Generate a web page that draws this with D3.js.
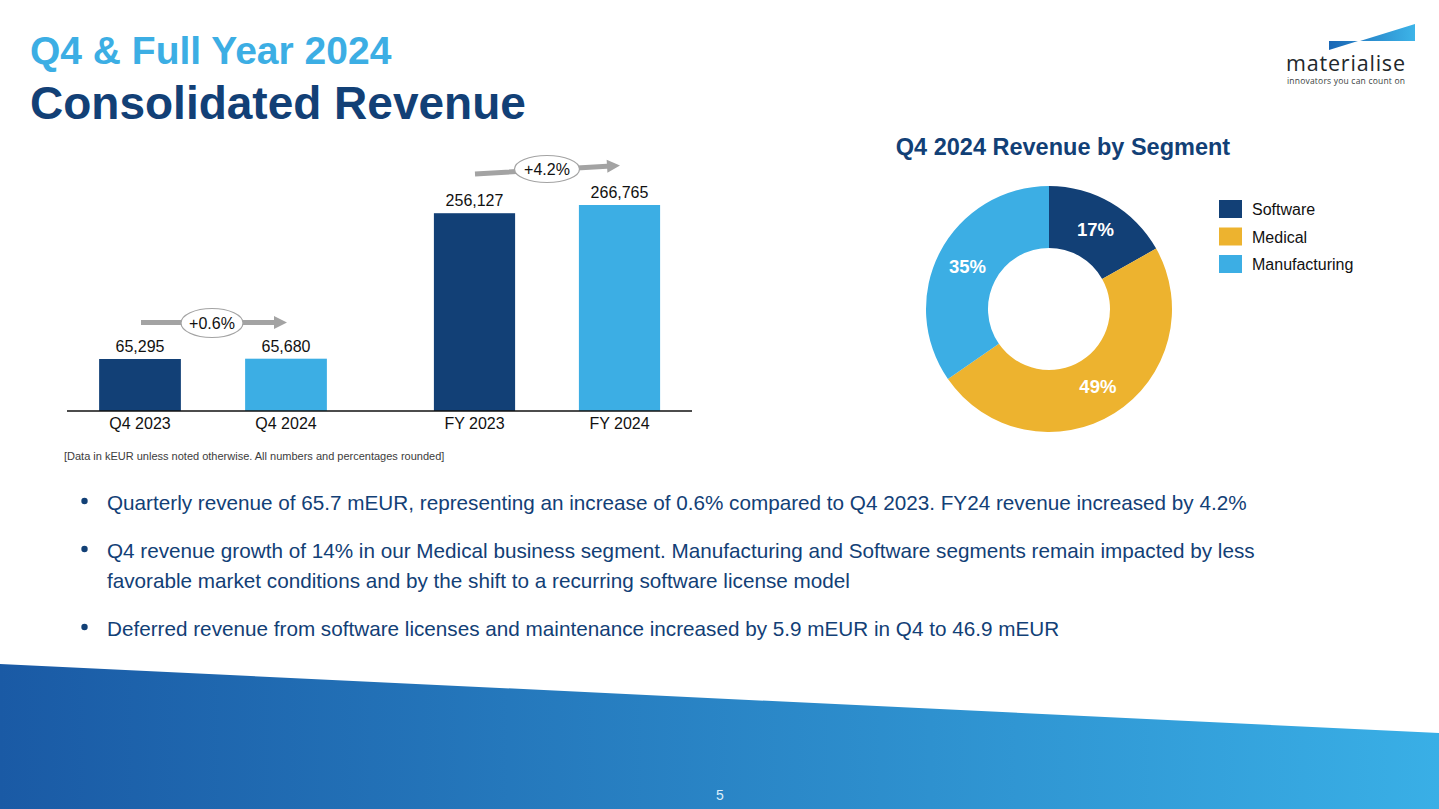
<!DOCTYPE html>
<html>
<head>
<meta charset="utf-8">
<title>Consolidated Revenue</title>
<script src="https://cdn.jsdelivr.net/npm/d3@7"></script>
<style>
html, body { margin: 0; padding: 0; background: #fff; overflow: hidden; }
svg { display: block; }
text { font-family: "Liberation Sans", Arial, sans-serif; }
</style>
</head>
<body>
<svg id="slide" width="1439" height="809"></svg>
<script>
'use strict';

var quarterLabels = ['Q4 2023', 'Q4 2024'];
var quarterValues = [65295, 65680];
var yearLabels = ['FY 2023', 'FY 2024'];
var yearValues = [256127, 266765];
var barColors = ['#124076', '#3caee4'];

var segmentNames = ['Software', 'Medical', 'Manufacturing'];
var segmentShares = [17, 49, 35];
var segmentColors = ['#124076', '#edb32f', '#3caee4'];

var bulletLines = [
  ['Quarterly revenue of 65.7 mEUR, representing an increase of 0.6% compared to Q4 2023. FY24 revenue increased by 4.2%'],
  ['Q4 revenue growth of 14% in our Medical business segment. Manufacturing and Software segments remain impacted by less',
   'favorable market conditions and by the shift to a recurring software license model'],
  ['Deferred revenue from software licenses and maintenance increased by 5.9 mEUR in Q4 to 46.9 mEUR']
];
var bulletTops = [510, 558, 636];

var svg = d3.select('#slide');
var defs = svg.append('defs');

function addGradient(id, from, to) {
  var g = defs.append('linearGradient').attr('id', id);
  g.append('stop').attr('offset', '0%').attr('stop-color', from);
  g.append('stop').attr('offset', '100%').attr('stop-color', to);
}
addGradient('footerFill', '#1a5aa5', '#39afe6');
addGradient('logoFill', '#1a67b5', '#3db4e8');

// footer band
svg.append('path').attr('d', 'M0,664 L1439,733 L1439,809 L0,809 Z').attr('fill', 'url(#footerFill)');
svg.append('text').attr('x', 720).attr('y', 800).attr('text-anchor', 'middle')
  .attr('font-size', 14).attr('fill', '#dceefa').text('5');

// titles
svg.append('text').attr('x', 30).attr('y', 64).attr('font-size', 39).attr('font-weight', 700)
  .attr('fill', '#3caee4').text('Q4 & Full Year 2024');
svg.append('text').attr('x', 30).attr('y', 119).attr('font-size', 46).attr('font-weight', 700)
  .attr('fill', '#124076').text('Consolidated Revenue');

// logo
svg.append('path').attr('d', 'M1329,41 L1358,41 L1329,50 Z M1360,41 L1415,24 L1415,41 Z').attr('fill', 'url(#logoFill)');
svg.append('text').attr('x', 1286).attr('y', 71).attr('font-size', 21.5).attr('font-weight', 500)
  .style('font-family', '"Open Sans"').attr('textLength', 119).attr('fill', '#22282c').text('materialise');
svg.append('text').attr('x', 1287).attr('y', 84).attr('font-size', 8.5)
  .style('font-family', '"Open Sans"').attr('textLength', 118).attr('fill', '#3a3f42').text('innovators you can count on');

// bars: the two groups are separate charts with their own scale
var baseY = 411;
function drawBars(labels, values, x0, x1, topValue, topY) {
  var x = d3.scaleBand().domain(labels).range([x0, x1]).paddingInner(0.44).paddingOuter(0.22);
  var y = d3.scaleLinear().domain([0, topValue]).range([baseY, topY]);
  var g = svg.append('g');
  g.selectAll('rect').data(values).join('rect')
    .attr('x', function(d, i) { return x(labels[i]); })
    .attr('y', function(d) { return y(d); })
    .attr('width', x.bandwidth())
    .attr('height', function(d) { return baseY - y(d); })
    .attr('fill', function(d, i) { return barColors[i]; });
  g.selectAll('text.val').data(values).join('text').attr('class', 'val')
    .attr('x', function(d, i) { return x(labels[i]) + x.bandwidth() / 2; })
    .attr('y', function(d) { return y(d) - 7; })
    .attr('text-anchor', 'middle').attr('font-size', 16).attr('fill', '#111')
    .text(function(d) { return d3.format(',')(d); });
  var axis = g.append('g').attr('transform', 'translate(0,' + baseY + ')')
    .call(d3.axisBottom(x).tickSize(0).tickPadding(7));
  axis.select('.domain').remove();
  axis.selectAll('text').attr('font-size', 16).attr('fill', '#111')
    .style('font-family', '"Liberation Sans"');
  return { x: x, y: y };
}
var left = drawBars(quarterLabels, quarterValues, 67, 359, 65295, 359);
var right = drawBars(yearLabels, yearValues, 402, 692, 266765, 205);
svg.append('line').attr('x1', 67).attr('x2', 692).attr('y1', baseY).attr('y2', baseY)
  .attr('stroke', '#111').attr('stroke-width', 1.4);

// growth arrows
function growthArrow(x1, y1, x2, y2, cx, cy, rx, ry, label) {
  var angle = Math.atan2(y2 - y1, x2 - x1) * 180 / Math.PI;
  var len = Math.hypot(x2 - x1, y2 - y1);
  var g = svg.append('g');
  var a = g.append('g').attr('transform', 'translate(' + x1 + ',' + y1 + ') rotate(' + angle + ')');
  a.append('path').attr('d', 'M0,-2.5 L' + (len - 13) + ',-2.5 L' + (len - 13) + ',-6.5 L' + len + ',0 L' + (len - 13) + ',6.5 L' + (len - 13) + ',2.5 L0,2.5 Z')
    .attr('fill', '#a3a3a3');
  g.append('ellipse').attr('cx', cx).attr('cy', cy).attr('rx', rx).attr('ry', ry)
    .attr('fill', '#fff').attr('stroke', '#a3a3a3').attr('stroke-width', 1.2);
  g.append('text').attr('x', cx).attr('y', cy + 5.5).attr('text-anchor', 'middle')
    .attr('font-size', 16).attr('fill', '#111').text(label);
}
growthArrow(141, 322.5, 287, 322.5, 212, 323, 31, 14.5, '+0.6%');
growthArrow(475, 174, 620, 165.5, 547, 169, 32.5, 13.5, '+4.2%');

svg.append('text').attr('x', 64).attr('y', 460).attr('font-size', 11).attr('fill', '#3c3c3c')
  .text('[Data in kEUR unless noted otherwise. All numbers and percentages rounded]');

// donut
var cx = 1049, cy = 309;
svg.append('text').attr('x', 1063).attr('y', 155).attr('text-anchor', 'middle')
  .attr('font-size', 23.5).attr('font-weight', 700).attr('fill', '#124076').text('Q4 2024 Revenue by Segment');
var pie = d3.pie().sort(null)(segmentShares);
var arc = d3.arc().innerRadius(61).outerRadius(123);
var labelArc = d3.arc().innerRadius(92).outerRadius(92);
var donut = svg.append('g').attr('transform', 'translate(' + cx + ',' + cy + ')');
donut.selectAll('path').data(pie).join('path')
  .attr('d', arc)
  .attr('fill', function(d, i) { return segmentColors[i]; });
donut.selectAll('text').data(pie).join('text')
  .attr('transform', function(d) { return 'translate(' + labelArc.centroid(d) + ')'; })
  .attr('dy', 6.5).attr('text-anchor', 'middle').attr('font-size', 18.5).attr('font-weight', 700)
  .attr('fill', '#fff').text(function(d) { return d.data + '%'; });

// legend
var legendY = d3.scalePoint().domain(segmentNames).range([209, 264]);
var legend = svg.append('g');
legend.selectAll('rect').data(segmentNames).join('rect')
  .attr('x', 1219).attr('y', function(d) { return legendY(d) - 9; })
  .attr('width', 23).attr('height', 18)
  .attr('fill', function(d, i) { return segmentColors[i]; });
legend.selectAll('text').data(segmentNames).join('text')
  .attr('x', 1252).attr('y', function(d) { return legendY(d) + 6; })
  .attr('font-size', 16).attr('fill', '#111').text(function(d) { return d; });

// bullets
bulletLines.forEach(function(lines, i) {
  svg.append('circle').attr('cx', 84.5).attr('cy', bulletTops[i] - 9).attr('r', 3.2).attr('fill', '#124076');
  lines.forEach(function(line, j) {
    svg.append('text').attr('x', 107).attr('y', bulletTops[i] + j * 30)
      .attr('font-size', 20.7).attr('fill', '#124076').text(line);
  });
});
</script>
</body>
</html>
